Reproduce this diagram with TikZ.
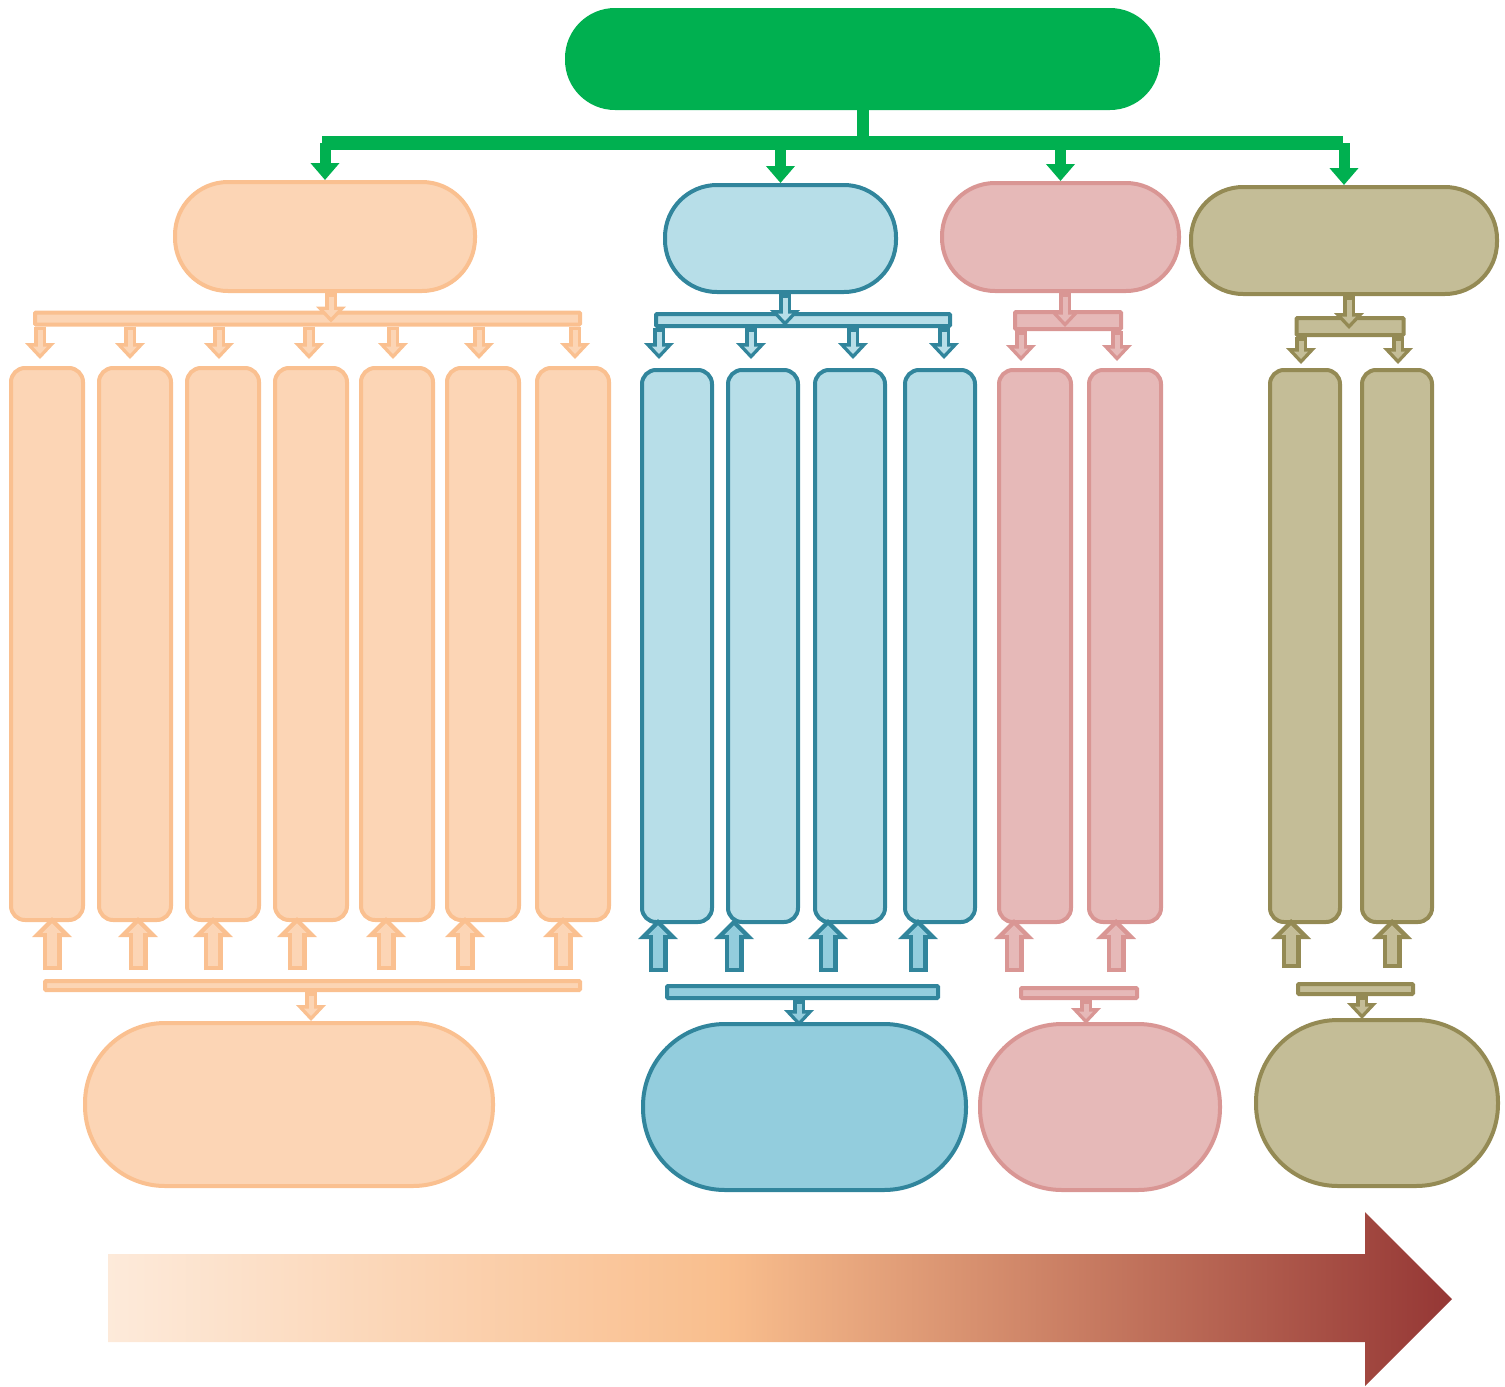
\documentclass[tikz,border=0pt]{standalone}
\usepackage{tikz}
\usetikzlibrary{arrows.meta,calc}

\definecolor{grn}{HTML}{00B050}
\definecolor{orF}{HTML}{FCD5B5}
\definecolor{orD}{HTML}{FAC090}
\definecolor{blF}{HTML}{B7DEE8}
\definecolor{blL}{HTML}{93CDDD}
\definecolor{blD}{HTML}{31859C}
\definecolor{rdF}{HTML}{E6B9B8}
\definecolor{rdD}{HTML}{D99694}
\definecolor{olF}{HTML}{C4BD97}
\definecolor{olD}{HTML}{948A54}
\definecolor{heatA}{HTML}{FDEADA}
\definecolor{heatB}{HTML}{F9BE8D}
\definecolor{heatC}{HTML}{953735}

\pgfdeclarehorizontalshading{heat}{100bp}{color(0bp)=(heatA); color(25bp)=(heatA); color(48bp)=(heatB); color(75bp)=(heatC); color(100bp)=(heatC)}

\tikzset{
  pill/.style 2 args={draw=#1, fill=#2, line width=4pt, inner sep=0pt},
  bus/.style 2 args={draw=#1, fill=#2, line width=4pt, inner sep=0pt, rounded corners=1pt},
  downarr/.style 2 args={draw=#1, line width=12pt, -{Triangle[length=16pt,width=30pt,line width=0pt]},
    postaction={draw=#2, line width=5pt, shorten <=3.5pt, shorten >=5pt, -{Triangle[length=7.5pt,width=14pt,line width=0pt]}}},
  uparr/.style 2 args={draw=#1, line width=19pt, -{Triangle[length=20pt,width=40pt,line width=0pt]},
    postaction={draw=#2, line width=10pt, shorten <=4.5pt, shorten >=6.3pt, -{Triangle[length=9.5pt,width=19pt,line width=0pt]}}},
}

\begin{document}
\begin{tikzpicture}[x=1pt,y=-1pt]
  \useasboundingbox (0,0) rectangle (1505,1387);

  \node[pill={grn}{grn}, minimum width=591pt, minimum height=98pt, rounded corners=48pt] (root) at (862.5,59) {};
  \node[fill=grn, minimum width=1021pt, minimum height=14pt, inner sep=0pt] (gbus) at (832.5,143) {};

  \node[pill={orD}{orF}, minimum width=300pt, minimum height=109pt, rounded corners=53pt] (otop) at (325,236.5) {};
  \node[pill={blD}{blF}, minimum width=231pt, minimum height=107pt, rounded corners=52pt] (btop) at (780.5,238.5) {};
  \node[pill={rdD}{rdF}, minimum width=237pt, minimum height=108pt, rounded corners=53pt] (rtop) at (1060.5,237) {};
  \node[pill={olD}{olF}, minimum width=306pt, minimum height=107pt, rounded corners=52pt] (ltop) at (1344,240.5) {};

  \draw[grn, line width=12pt] (root.south) -- (root.south |- gbus.center);
  \foreach \n in {otop,btop,rtop,ltop}
    \draw[grn, line width=11pt, -{Triangle[length=17pt,width=28pt]}] (gbus.center -| \n.north) -- (\n.north);

  \node[bus={orD}{orF}, minimum width=545pt, minimum height=12pt] (osplit) at (307.5,318.5) {};
  \node[bus={blD}{blF}, minimum width=294pt, minimum height=12pt] (bsplit) at (803,320) {};
  \node[bus={rdD}{rdF}, minimum width=106pt, minimum height=17pt] (rsplit) at (1068,320.5) {};
  \node[bus={olD}{olF}, minimum width=107pt, minimum height=17pt] (lsplit) at (1350,326.5) {};

  \node[bus={orD}{orF}, minimum width=535pt, minimum height=9pt] (omerge) at (312.5,985.5) {};
  \node[bus={blD}{blL}, minimum width=271pt, minimum height=12pt] (bmerge) at (802.5,992) {};
  \node[bus={rdD}{rdF}, minimum width=116pt, minimum height=10pt] (rmerge) at (1079,993) {};
  \node[bus={olD}{olF}, minimum width=115pt, minimum height=10pt] (lmerge) at (1355.5,989) {};

  \node[pill={orD}{orF}, minimum width=408pt, minimum height=163pt, rounded corners=80pt] (oend) at (289,1104.5) {};
  \node[pill={blD}{blL}, minimum width=323pt, minimum height=166pt, rounded corners=82pt] (bend) at (804.5,1107) {};
  \node[pill={rdD}{rdF}, minimum width=240pt, minimum height=166pt, rounded corners=82pt] (rend) at (1100,1107) {};
  \node[pill={olD}{olF}, minimum width=242pt, minimum height=166pt, rounded corners=82pt] (lend) at (1377,1103) {};

  \foreach \i/\x/\d/\u in {1/47/-7/5,2/135/-5/3,3/223/-4/-10,4/311/-2/-14,5/397/-4/-11,6/483/-4/-18,7/573/2/-10} {
    \node[pill={orD}{orF}, minimum width=72pt, minimum height=552pt, rounded corners=14pt] (oc\i) at (\x,644) {};
    \draw[downarr={orD}{orF}] ($(osplit.south -| oc\i.north)+(\d,0)$) -- ($(oc\i.north)+(\d,-7)$);
    \draw[uparr={orD}{orF}] ($(oc\i.south)+(\u,48)$) -- ($(oc\i.south)+(\u,-5)$);
  }
  \foreach \i/\x/\d/\u in {1/677/-18/-19,2/763/-12/-29,3/850/3/-22,4/940/4/-22} {
    \node[pill={blD}{blF}, minimum width=70pt, minimum height=552pt, rounded corners=14pt] (bc\i) at (\x,646) {};
    \draw[downarr={blD}{blF}] ($(bsplit.south -| bc\i.north)+(\d,0)$) -- ($(bc\i.north)+(\d,-9)$);
    \draw[uparr={blD}{blL}] ($(bc\i.south)+(\u,48)$) -- ($(bc\i.south)+(\u,-5)$);
  }
  \foreach \i/\x/\d/\u in {1/1035/-14/-21,2/1125/-8/-9} {
    \node[pill={rdD}{rdF}, minimum width=72pt, minimum height=552pt, rounded corners=14pt] (rc\i) at (\x,646) {};
    \draw[downarr={rdD}{rdF}] ($(rsplit.south -| rc\i.north)+(\d,0)$) -- ($(rc\i.north)+(\d,-7)$);
    \draw[uparr={rdD}{rdF}] ($(rc\i.south)+(\u,48)$) -- ($(rc\i.south)+(\u,-5)$);
  }
  \foreach \i/\x/\d/\u in {1/1305/-4/-14,2/1397/1/-5} {
    \node[pill={olD}{olF}, minimum width=70pt, minimum height=552pt, rounded corners=14pt] (lc\i) at (\x,646) {};
    \draw[downarr={olD}{olF}] ($(lsplit.south -| lc\i.north)+(\d,0)$) -- ($(lc\i.north)+(\d,-4)$);
    \draw[uparr={olD}{olF}] ($(lc\i.south)+(\u,44)$) -- ($(lc\i.south)+(\u,-5)$);
  }

  \draw[downarr={orD}{orF}] ($(otop.south)+(6,0)$) -- ($(osplit.south -| otop.south)+(6,-4)$);
  \draw[downarr={blD}{blF}] ($(btop.south)+(4.5,0)$) -- ($(bsplit.south -| btop.south)+(4.5,-2)$);
  \draw[downarr={rdD}{rdF}] ($(rtop.south)+(4.5,0)$) -- ($(rsplit.south -| rtop.south)+(4.5,-4)$);
  \draw[downarr={olD}{olF}] ($(ltop.south)+(5,0)$) -- ($(lsplit.south -| ltop.south)+(5,-8)$);

  \draw[downarr={orD}{orF}] ($(omerge.south)+(-1.5,0)$) -- ($(omerge.south |- oend.north)+(-1.5,0)$);
  \draw[downarr={blD}{blL}] ($(bmerge.south)+(-3.5,0)$) -- ($(bmerge.south |- bend.north)+(-3.5,4)$);
  \draw[downarr={rdD}{rdF}] ($(rmerge.south)+(7,0)$) -- ($(rmerge.south |- rend.north)+(7,2)$);
  \draw[downarr={olD}{olF}] ($(lmerge.south)+(6.5,0)$) -- ($(lmerge.south |- lend.north)+(6.5,1)$);

  \shade[shading=heat] (108,1254) -- (1365,1254) -- (1365,1212) -- (1452,1299) -- (1365,1386) -- (1365,1342) -- (108,1342) -- cycle;
\end{tikzpicture}
\end{document}
